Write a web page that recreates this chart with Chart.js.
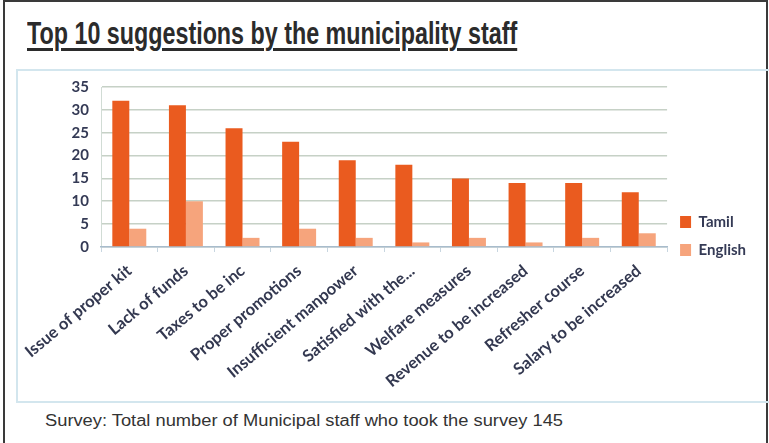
<!DOCTYPE html>
<html>
<head>
<meta charset="utf-8">
<script src="https://cdn.jsdelivr.net/npm/chart.js@4"></script>
<style>
  html, body { margin:0; padding:0; background:#fff; width:769px; height:443px; overflow:hidden; }
  #frame { position:absolute; left:3px; top:0; width:761px; height:441px; border:2px solid #3a3a3a; border-bottom:none; }
  #box { position:absolute; left:16px; top:69px; width:752px; height:330px; border:2px solid #d3e6ee; }
  #title { position:absolute; left:27px; top:15px; font:bold 32px "Liberation Sans Narrow", sans-serif; color:#2b2b2b;
           text-decoration:underline; text-decoration-thickness:3px; text-underline-offset:4px; white-space:nowrap; transform-origin:0 0; }
  #foot { position:absolute; left:45px; top:412px; font:16px "Liberation Sans", sans-serif; color:#333; white-space:nowrap; transform-origin:0 0; }
  #wrap { position:absolute; left:14px; top:66px; width:742px; height:334px; }
</style>
</head>
<body>
<div id="frame"></div>
<div id="box"></div>
<span id="title">Top 10 suggestions by the municipality staff</span>
<span id="foot">Survey: Total number of Municipal staff who took the survey 145</span>
<div id="wrap"><canvas id="chart"></canvas></div>
<script>
// chart data
const categories = ['Issue of proper kit', 'Lack of funds', 'Taxes to be inc', 'Proper promotions',
  'Insufficient manpower', 'Satisfied with the...', 'Welfare measures', 'Revenue to be increased',
  'Refresher course', 'Salary to be increased'];
const tamil = [32, 31, 26, 23, 19, 18, 15, 14, 14, 12];
const english = [4, 10, 2, 4, 2, 1, 2, 1, 2, 3];
const yTicks = [0, 5, 10, 15, 20, 25, 30, 35];

// squeeze the texts to the widths in the picture
function fitWidth(id, w) {
  const el = document.getElementById(id);
  el.style.transform = 'scaleX(' + (w / el.offsetWidth) + ')';
}
fitWidth('title', 490);
fitWidth('foot', 518);

const ctx = document.getElementById('chart').getContext('2d');
const myChart = new Chart(ctx, {
  type: 'bar',
  data: {
    labels: categories,
    datasets: [{
      label: 'Tamil',
      data: tamil,
      backgroundColor: '#ea5b1f',
      categoryPercentage: 0.6,
      barPercentage: 1.0
    }, {
      label: 'English',
      data: english,
      backgroundColor: '#f6a47c',
      categoryPercentage: 0.6,
      barPercentage: 1.0
    }]
  },
  options: {
    responsive: true,
    maintainAspectRatio: false,
    animation: false,
    layout: { padding: { top: 12, left: 0, right: 0, bottom: 6 } },
    plugins: {
      tooltip: { enabled: false },
      legend: {
        position: 'right',
        padding: 0,
        labels: {
          boxWidth: 11,
          boxHeight: 12,
          padding: 13,
          color: '#343a55',
          font: { family: 'Lato', size: 15, weight: 'bold' }
        }
      }
    },
    scales: {
      y: {
        min: 0,
        max: 35,
        afterBuildTicks: (s) => { s.ticks = yTicks.map(v => ({ value: v })); },
        afterFit: (s) => { s.width = 87; },
        ticks: { color: '#343a55', padding: 12, font: { family: 'Lato', size: 15, weight: 'bold' } },
        grid: { color: 'rgba(160,178,160,0.6)', lineWidth: 1.6, drawTicks: false },
        border: { color: 'rgba(190,205,195,0.7)', width: 1 }
      },
      x: {
        afterFit: (s) => { s.height = 147; },
        ticks: { color: '#333850', maxRotation: 40, minRotation: 40, autoSkip: false, padding: 9,
                 font: { family: 'Lato', size: 16.5, weight: 'bold' } },
        grid: { drawOnChartArea: false, tickLength: 5, color: '#c8d6e0' },
        border: { color: '#a8bccc', width: 1.5 }
      }
    }
  }
});
</script>
</body>
</html>
